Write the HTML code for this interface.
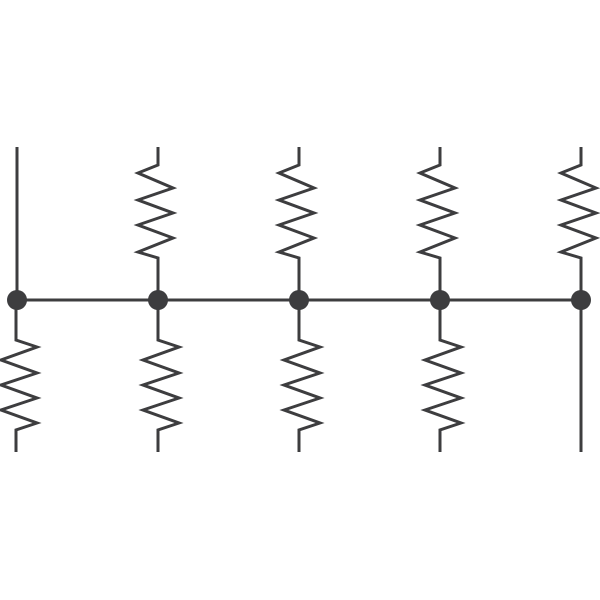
<!DOCTYPE html>
<html><head><meta charset="utf-8"><style>html,body{margin:0;padding:0;background:#fff}svg{display:block}</style></head>
<body>
<svg width="600" height="600" viewBox="0 0 600 600" xmlns="http://www.w3.org/2000/svg">
<defs>
<path id="top" d="M0,147 L0,165 L-20,173 L15,188 L-20,200 L15,213 L-20,225 L15,238 L-20,252 L0,258 L0,300"/>
<path id="bot" d="M0,300 L0,340 L21,347 L-15,360 L21,373 L-15,385 L21,398 L-15,410 L21,423 L0,430 L0,452"/>
</defs>
<g fill="none" stroke="#3d3d3f" stroke-width="3" stroke-linejoin="miter">
<line x1="17" y1="147" x2="17" y2="300"/>
<line x1="17" y1="300" x2="581" y2="300"/>
<use href="#bot" transform="translate(18,0) translate(-2,0)"/>
<use href="#top" transform="translate(158,0)"/>
<use href="#bot" transform="translate(158,0)"/>
<use href="#top" transform="translate(299,0)"/>
<use href="#bot" transform="translate(299,0)"/>
<use href="#top" transform="translate(440,0)"/>
<use href="#bot" transform="translate(440,0)"/>
<use href="#top" transform="translate(581,0)"/>
<line x1="581" y1="300" x2="581" y2="452"/>
</g>
<g fill="#3d3d3f">
<circle cx="17" cy="300" r="10"/>
<circle cx="158" cy="300" r="10"/>
<circle cx="299" cy="300" r="10"/>
<circle cx="440" cy="300" r="10"/>
<circle cx="581" cy="300" r="10"/>
</g>
</svg>
</body></html>
